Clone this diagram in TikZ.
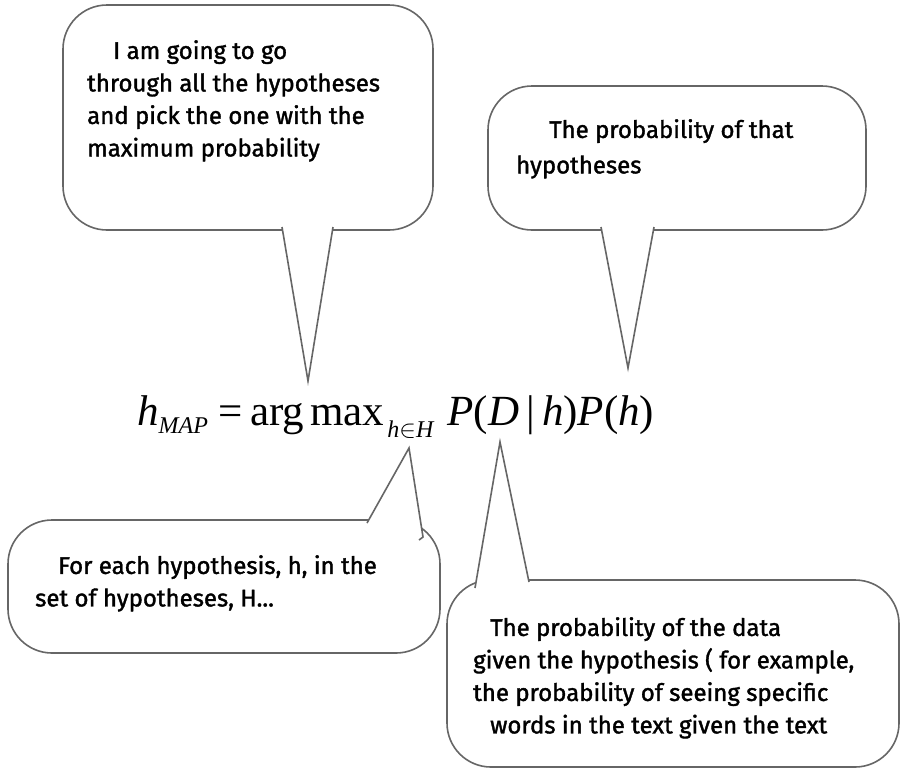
\documentclass[tikz,border=0pt]{standalone}
\usepackage{fontspec}
\setmainfont{Fira Sans}
\newfontfamily\sayfont{Fira Sans}[FakeBold=1.5]
\newfontfamily\eqfont{Liberation Serif}
\definecolor{bubblegray}{HTML}{666666}
\tikzset{
  bubble/.style={draw=bubblegray, line width=1.6pt, fill=white, rounded corners=44pt},
  tail/.style={draw=bubblegray, line width=1.6pt, fill=white, line join=miter},
  say/.style={anchor=north west, align=left, inner sep=0pt, font=\sayfont\fontsize{24}{32.5}\selectfont},
  eqn/.style={anchor=base west, inner sep=0pt, font=\eqfont\fontsize{43}{50}\selectfont},
}
\newcommand{\subtxt}[2]{\raisebox{#1}{\fontsize{24}{24}\selectfont #2}}

\begin{document}
\begin{tikzpicture}[x=1pt, y=-1pt]
	\useasboundingbox (0,0) rectangle (901,769);
	% the formula
	\node[eqn] (mapeq) at (137,425) {\textit{h}\subtxt{-8pt}{\textit{MAP}}\hspace{10pt}=\hspace{8pt}arg\hspace{6pt}max\hspace{3pt}\subtxt{-12pt}{\textit{h}$\in$\textit{H}}\hspace{13pt}\textit{P}(\textit{D}\,|\,\textit{h})\textit{P}(\textit{h})};
	% top left bubble
	\draw[bubble] (63,5) rectangle (433,230);
	\coordinate (argtip) at (308,381);
	\filldraw[tail] (282,227) -- (argtip) -- (333,227);
	\node[say] (gothrough) at (87,40) {\hspace*{26pt}I am going to go\\through all the hypotheses\\and pick the one with the\\maximum probability};
	% top right bubble
	\draw[bubble] (488,86) rectangle (866,230);
	\coordinate (priortip) at (628,368);
	\filldraw[tail] (601,227) -- (priortip) -- (654,227);
	\node[say] (prior) at (516,119) {\hspace*{33pt}The probability of that\\[3pt]hypotheses};
	% bottom left bubble
	\draw[bubble] (8,520) rectangle (440,653);
	\coordinate (settip) at (409,448);
	\filldraw[tail] (367,523) -- (settip) -- (423,537) -- (419,540);
	\node[say] (eachh) at (35,555) {\hspace*{23pt}For each hypothesis, h, in the\\set of hypotheses, H...};
	% bottom right bubble
	\draw[bubble] (447,580) rectangle (899,767);
	\coordinate (liketip) at (500,442);
	\filldraw[tail] (475,588) -- (liketip) -- (529,582);
	\node[say] (likelihood) at (473,617) {\hspace*{17pt}The probability of the data\\given the hypothesis ( for example,\\the probability of seeing specific\\\hspace*{17pt}words in the text given the text};
\end{tikzpicture}
\end{document}
